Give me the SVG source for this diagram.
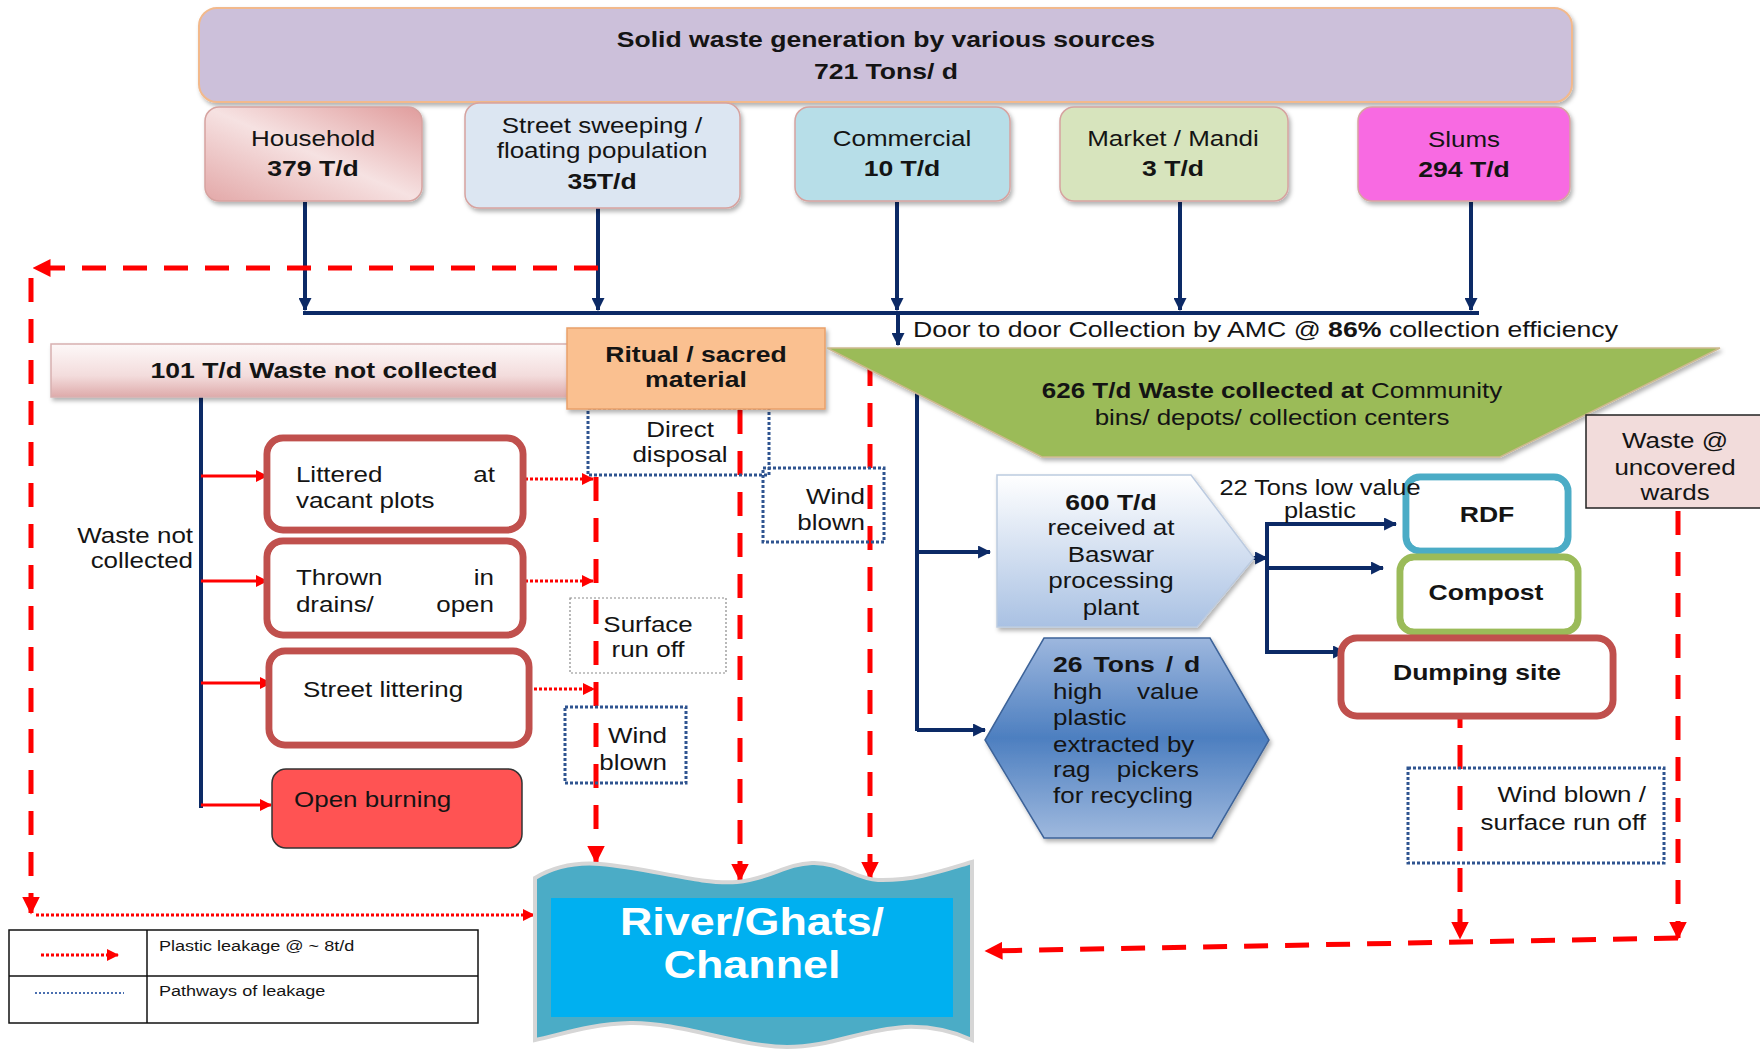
<svg xmlns="http://www.w3.org/2000/svg" width="1760" height="1053" viewBox="0 0 1760 1053">
<defs>
<style>
text{font-family:"Liberation Sans",Arial,sans-serif;fill:#141414}
.r{font-size:22px}
.b{font-size:22.5px;font-weight:bold}
.c{text-anchor:middle}
.e{text-anchor:end}
.nv{stroke:#0c2a66;stroke-width:4;fill:none}
.rd{stroke:#ff0000;stroke-width:5;fill:none;stroke-dasharray:24 17}
.rdot{stroke:#ff0000;stroke-width:3;fill:none;stroke-dasharray:3 2}
.rs{stroke:#ff0000;stroke-width:3;fill:none}
.bd{stroke:#2f5490;stroke-width:3;fill:none;stroke-dasharray:3 2}
.src{stroke:#d6a3a0;stroke-width:1.5}
.dbl{fill:#fff;stroke-width:7}
.inner{fill:none;stroke:#fff;stroke-width:1.5}
</style>
<filter id="sh" x="-10%" y="-10%" width="130%" height="140%">
<feDropShadow dx="2" dy="3" stdDeviation="2" flood-color="#000" flood-opacity="0.3"/>
</filter>
<marker id="an" viewBox="0 0 12 12" refX="11" refY="6" markerWidth="13" markerHeight="13" markerUnits="userSpaceOnUse" orient="auto">
<path d="M0,0 L12,6 L0,12 Z" fill="#0c2a66"/>
</marker>
<marker id="ar" viewBox="0 0 12 12" refX="11" refY="6" markerWidth="18" markerHeight="18" markerUnits="userSpaceOnUse" orient="auto">
<path d="M0,0 L12,6 L0,12 Z" fill="#ff0000"/>
</marker>
<marker id="ars" viewBox="0 0 12 12" refX="11" refY="6" markerWidth="12" markerHeight="12" markerUnits="userSpaceOnUse" orient="auto">
<path d="M0,0 L12,6 L0,12 Z" fill="#ff0000"/>
</marker>
<linearGradient id="gHouse" x1="1" y1="0" x2="0" y2="1">
<stop offset="0" stop-color="#e09c9c"/>
<stop offset="0.5" stop-color="#f6e2e2"/>
<stop offset="1" stop-color="#e3a8a8"/>
</linearGradient>
<linearGradient id="gBar" x1="0" y1="0" x2="0" y2="1">
<stop offset="0" stop-color="#fdf8f8"/>
<stop offset="0.6" stop-color="#f3dcdc"/>
<stop offset="1" stop-color="#deaaaa"/>
</linearGradient>
<linearGradient id="gPent" x1="0" y1="0" x2="0" y2="1">
<stop offset="0" stop-color="#ffffff"/>
<stop offset="1" stop-color="#a9c1e3"/>
</linearGradient>
<linearGradient id="gHex" x1="0" y1="0" x2="0" y2="1">
<stop offset="0" stop-color="#9db7de"/>
<stop offset="0.5" stop-color="#4d7fc0"/>
<stop offset="1" stop-color="#9fb9de"/>
</linearGradient>
</defs>

<g id="connectors">
<line class="nv" x1="305" y1="202" x2="305" y2="310" marker-end="url(#an)"/>
<line class="nv" x1="598" y1="208" x2="598" y2="310" marker-end="url(#an)"/>
<line class="nv" x1="897" y1="202" x2="897" y2="310" marker-end="url(#an)"/>
<line class="nv" x1="1180" y1="202" x2="1180" y2="310" marker-end="url(#an)"/>
<line class="nv" x1="1471" y1="202" x2="1471" y2="310" marker-end="url(#an)"/>
<line class="nv" x1="303" y1="313" x2="1479" y2="313"/>
<line class="nv" x1="898" y1="313" x2="898" y2="345" marker-end="url(#an)"/>
<line class="nv" x1="201" y1="396" x2="201" y2="808"/>
<line class="rs" x1="201" y1="476" x2="267" y2="476" marker-end="url(#ars)"/>
<line class="rs" x1="201" y1="581" x2="267" y2="581" marker-end="url(#ars)"/>
<line class="rs" x1="201" y1="683" x2="271" y2="683" marker-end="url(#ars)"/>
<line class="rs" x1="201" y1="805" x2="271" y2="805" marker-end="url(#ars)"/>
<line class="nv" x1="917" y1="393" x2="917" y2="731"/>
<line class="nv" x1="917" y1="552" x2="990" y2="552" marker-end="url(#an)"/>
<line class="nv" x1="917" y1="730" x2="985" y2="730" marker-end="url(#an)"/>
<line class="nv" x1="1244" y1="558" x2="1267" y2="558" marker-end="url(#an)"/>
<line class="nv" x1="1267" y1="522" x2="1267" y2="653"/>
<line class="nv" x1="1265" y1="524" x2="1396" y2="524" marker-end="url(#an)"/>
<line class="nv" x1="1265" y1="568" x2="1383" y2="568" marker-end="url(#an)"/>
<line class="nv" x1="1265" y1="652" x2="1345" y2="652" marker-end="url(#an)"/>
<line class="rd" x1="598" y1="268" x2="34" y2="268" marker-end="url(#ar)"/>
<line class="rd" x1="31" y1="278" x2="31" y2="913" marker-end="url(#ar)"/>
<line class="rdot" x1="36" y1="915" x2="534" y2="915" marker-end="url(#ars)"/>
<line class="rdot" x1="525" y1="479" x2="593" y2="479" marker-end="url(#ars)"/>
<line class="rdot" x1="525" y1="581" x2="593" y2="581" marker-end="url(#ars)"/>
<line class="rdot" x1="529" y1="689" x2="594" y2="689" marker-end="url(#ars)"/>
<line class="rd" x1="596" y1="477" x2="596" y2="862" marker-end="url(#ar)"/>
<line class="rd" x1="740" y1="410" x2="740" y2="880" marker-end="url(#ar)"/>
<line class="rd" x1="870" y1="362" x2="870" y2="878" marker-end="url(#ar)"/>
<line class="rd" x1="1460" y1="704" x2="1460" y2="938" marker-end="url(#ar)"/>
<line class="rd" x1="1678" y1="511" x2="1678" y2="938" marker-end="url(#ar)"/>
<line class="rd" x1="1678" y1="938" x2="986" y2="951" marker-end="url(#ar)"/>
</g>

<g id="top-banner">
<rect x="199" y="8" width="1373" height="94" rx="18" fill="#ccc0da" stroke="#f2b98c" stroke-width="2" filter="url(#sh)"/>
<text class="b c" transform="scale(1.18 1)" x="750.8" y="47">Solid waste generation by various sources</text>
<text class="b c" transform="scale(1.18 1)" x="750.8" y="79">721 Tons/ d</text>
</g>

<g id="household">
<rect class="src" x="205" y="107" width="217" height="94" rx="14" fill="url(#gHouse)" filter="url(#sh)"/>
<text class="r c" transform="scale(1.18 1)" x="265.3" y="146">Household</text>
<text class="b c" transform="scale(1.18 1)" x="265.3" y="176">379 T/d</text>
</g>

<g id="street-sweeping">
<rect class="src" x="465" y="103" width="275" height="105" rx="14" fill="#dce6f2" filter="url(#sh)"/>
<text class="r c" transform="scale(1.18 1)" x="510.2" y="133">Street sweeping /</text>
<text class="r c" transform="scale(1.18 1)" x="510.2" y="158">floating population</text>
<text class="b c" transform="scale(1.18 1)" x="510.2" y="189">35T/d</text>
</g>

<g id="commercial">
<rect class="src" x="795" y="107" width="215" height="94" rx="14" fill="#b7dee8" filter="url(#sh)"/>
<text class="r c" transform="scale(1.18 1)" x="764.4" y="146">Commercial</text>
<text class="b c" transform="scale(1.18 1)" x="764.4" y="176">10 T/d</text>
</g>

<g id="market">
<rect class="src" x="1060" y="107" width="228" height="94" rx="14" fill="#d7e4bd" filter="url(#sh)"/>
<text class="r c" transform="scale(1.18 1)" x="994.1" y="146">Market / Mandi</text>
<text class="b c" transform="scale(1.18 1)" x="994.1" y="176">3 T/d</text>
</g>

<g id="slums">
<rect class="src" x="1358" y="107" width="212" height="94" rx="14" fill="#f86be2" filter="url(#sh)"/>
<text class="r c" transform="scale(1.18 1)" x="1240.7" y="147">Slums</text>
<text class="b c" transform="scale(1.18 1)" x="1240.7" y="177">294 T/d</text>
</g>

<g id="door-to-door">
<text class="r" style="font-size:22.6px" transform="scale(1.18 1)" x="773.7" y="337">Door to door Collection by AMC @ <tspan font-weight="bold">86%</tspan> collection efficiency</text>
</g>

<g id="not-collected-bar">
<rect x="51" y="344" width="530" height="53" fill="url(#gBar)" stroke="#d8b0b0" stroke-width="1.5" filter="url(#sh)"/>
<text class="b c" transform="scale(1.18 1)" x="274.6" y="378">101 T/d Waste not collected</text>
</g>

<g id="direct-disposal">
<rect class="bd" x="588" y="408" width="181" height="67"/>
<text class="r c" transform="scale(1.18 1)" x="576.3" y="437">Direct</text>
<text class="r c" transform="scale(1.18 1)" x="576.3" y="462">disposal</text>
</g>

<g id="ritual">
<rect x="567" y="328" width="258" height="81" fill="#fac090" stroke="#e9a06a" stroke-width="1.5" filter="url(#sh)"/>
<text class="b c" transform="scale(1.18 1)" x="589.8" y="362">Ritual / sacred</text>
<text class="b c" transform="scale(1.18 1)" x="589.8" y="387">material</text>
</g>

<g id="collected">
<polygon points="827,348 1720,348 1500,457 1042,457" fill="#9bbb59" stroke="#cdb98e" stroke-width="1.5" filter="url(#sh)"/>
<text class="r c" transform="scale(1.18 1)" x="1078" y="398"><tspan font-weight="bold">626 T/d Waste collected at</tspan> Community</text>
<text class="r c" transform="scale(1.18 1)" x="1078" y="425">bins/ depots/ collection centers</text>
</g>

<g id="wind-upper">
<rect class="bd" x="763" y="468" width="121" height="74"/>
<text class="r e" transform="scale(1.18 1)" x="733.1" y="504">Wind</text>
<text class="r e" transform="scale(1.18 1)" x="733.1" y="530">blown</text>
</g>

<g id="waste-not-collected-label">
<text class="r e" transform="scale(1.18 1)" x="163.6" y="543">Waste not</text>
<text class="r e" transform="scale(1.18 1)" x="163.6" y="568">collected</text>
</g>

<g id="littered">
<rect class="dbl" x="267" y="438" width="256" height="92" rx="16" stroke="#c0504d"/>
<rect class="inner" x="271.5" y="442.5" width="247" height="83" rx="12"/>
<text class="r" transform="scale(1.18 1)" y="482"><tspan x="250.8">Littered </tspan><tspan x="419.5" text-anchor="end">at</tspan></text>
<text class="r" transform="scale(1.18 1)" x="250.8" y="508">vacant plots</text>
</g>

<g id="thrown">
<rect class="dbl" x="267" y="541" width="256" height="94" rx="16" stroke="#c0504d"/>
<rect class="inner" x="271.5" y="545.5" width="247" height="85" rx="12"/>
<text class="r" transform="scale(1.18 1)" y="585"><tspan x="250.8">Thrown </tspan><tspan x="418.6" text-anchor="end">in</tspan></text>
<text class="r" transform="scale(1.18 1)" y="612"><tspan x="250.8">drains/ </tspan><tspan x="418.6" text-anchor="end">open</tspan></text>
</g>

<g id="street-littering">
<rect class="dbl" x="269" y="651" width="260" height="94" rx="16" stroke="#c0504d"/>
<rect class="inner" x="273.5" y="655.5" width="251" height="85" rx="12"/>
<text class="r" transform="scale(1.18 1)" x="256.8" y="697">Street littering</text>
</g>

<g id="open-burning">
<rect x="272" y="769" width="250" height="79" rx="14" fill="#ff5353" stroke="#333" stroke-width="1.5"/>
<text class="r" transform="scale(1.18 1)" x="249.2" y="807">Open burning</text>
</g>

<g id="surface-run-off">
<rect x="570" y="598" width="156" height="75" fill="none" stroke="#8a8a8a" stroke-width="1.2" stroke-dasharray="2 2"/>
<text class="r c" transform="scale(1.18 1)" x="549.2" y="632">Surface</text>
<text class="r c" transform="scale(1.18 1)" x="549.2" y="657">run off</text>
</g>

<g id="wind-lower">
<rect class="bd" x="565" y="707" width="121" height="76"/>
<text class="r e" transform="scale(1.18 1)" x="565.3" y="743">Wind</text>
<text class="r e" transform="scale(1.18 1)" x="565.3" y="770">blown</text>
</g>

<g id="river">
<path d="M535,878 C555,866 575,862 600,864 C650,868 700,885 737,882 C770,879 785,864 812,863 C840,862 855,879 878,880 C915,881 945,870 972,862 L972,1040 C950,1030 930,1026 905,1027 C860,1030 830,1047 787,1047 C740,1047 680,1022 630,1023 C590,1024 560,1035 535,1040 Z" fill="#4bacc6" stroke="#d6d6d6" stroke-width="4"/>
<rect x="551" y="898" width="402" height="119" fill="#00b0f0"/>
<text class="c" style="font-size:38px;font-weight:bold;fill:#fff" transform="scale(1.18 1)" x="637.3" y="935">River/Ghats/</text>
<text class="c" style="font-size:38px;font-weight:bold;fill:#fff" transform="scale(1.18 1)" x="637.3" y="978">Channel</text>
</g>

<g id="legend">
<rect x="9" y="930" width="469" height="93" fill="none" stroke="#111" stroke-width="1.5"/>
<line x1="147" y1="930" x2="147" y2="1023" stroke="#111" stroke-width="1.5"/>
<line x1="9" y1="976" x2="478" y2="976" stroke="#111" stroke-width="1.5"/>
<line class="rdot" x1="41" y1="955" x2="118" y2="955" marker-end="url(#ars)"/>
<line x1="35" y1="993" x2="124" y2="993" stroke="#4a6fb0" stroke-width="2" stroke-dasharray="2 2"/>
<text style="font-size:15.3px" transform="scale(1.18 1)" x="134.7" y="951">Plastic leakage @ ~ 8t/d</text>
<text style="font-size:15.3px" transform="scale(1.18 1)" x="134.7" y="996">Pathways of leakage</text>
</g>

<g id="baswar-plant">
<polygon points="997,475 1191,475 1254,558 1197,627 997,627" fill="url(#gPent)" stroke="#bccbe0" stroke-width="1.5" filter="url(#sh)"/>
<text class="b c" transform="scale(1.18 1)" x="941.5" y="510">600 T/d</text>
<text class="r c" transform="scale(1.18 1)" x="941.5" y="535">received at</text>
<text class="r c" transform="scale(1.18 1)" x="941.5" y="562">Baswar</text>
<text class="r c" transform="scale(1.18 1)" x="941.5" y="588">processing</text>
<text class="r c" transform="scale(1.18 1)" x="941.5" y="615">plant</text>
</g>

<g id="rdf">
<rect class="dbl" x="1406" y="477" width="162" height="74" rx="14" stroke="#4bacc6"/>
<rect class="inner" x="1410.5" y="481.5" width="153" height="65" rx="10"/>
<text class="b c" transform="scale(1.18 1)" x="1260.2" y="522">RDF</text>
</g>

<g id="low-value-label">
<text class="c" style="font-size:21.5px" transform="scale(1.18 1)" x="1118.6" y="495">22 Tons low value</text>
<text class="c" style="font-size:21.5px" transform="scale(1.18 1)" x="1118.6" y="518">plastic</text>
</g>

<g id="compost">
<rect class="dbl" x="1400" y="557" width="178" height="75" rx="14" stroke="#9bbb59"/>
<rect class="inner" x="1404.5" y="561.5" width="169" height="66" rx="10"/>
<text class="b c" transform="scale(1.18 1)" x="1259.3" y="600">Compost</text>
</g>

<g id="dumping-site">
<rect class="dbl" x="1341" y="638" width="272" height="78" rx="16" stroke="#c0504d"/>
<rect class="inner" x="1345.5" y="642.5" width="263" height="69" rx="12"/>
<text class="b c" transform="scale(1.18 1)" x="1251.7" y="680">Dumping site</text>
</g>

<g id="uncovered-wards">
<rect x="1586" y="415" width="176" height="93" fill="#f2dcdb" stroke="#222" stroke-width="1.5"/>
<text class="r c" transform="scale(1.18 1)" x="1419.5" y="448">Waste @</text>
<text class="r c" transform="scale(1.18 1)" x="1419.5" y="475">uncovered</text>
<text class="r c" transform="scale(1.18 1)" x="1419.5" y="500">wards</text>
</g>

<g id="rag-pickers">
<polygon points="1044,638 1210,638 1269,740 1212,838 1044,838 985,740" fill="url(#gHex)" stroke="#3d6399" stroke-width="1.5" filter="url(#sh)"/>
<text class="b" style="word-spacing:3px" transform="scale(1.18 1)" x="892.4" y="672">26 Tons / d</text>
<text class="r" transform="scale(1.18 1)" y="699"><tspan x="892.4">high </tspan><tspan x="1016.1" text-anchor="end">value</tspan></text>
<text class="r" transform="scale(1.18 1)" x="892.4" y="725">plastic</text>
<text class="r" transform="scale(1.18 1)" x="892.4" y="752">extracted by</text>
<text class="r" transform="scale(1.18 1)" y="777"><tspan x="892.4">rag </tspan><tspan x="1016.1" text-anchor="end">pickers</tspan></text>
<text class="r" transform="scale(1.18 1)" x="892.4" y="803">for recycling</text>
</g>

<g id="wind-surface">
<rect class="bd" x="1408" y="768" width="256" height="95"/>
<text class="r e" transform="scale(1.18 1)" x="1394.9" y="802">Wind blown /</text>
<text class="r e" transform="scale(1.18 1)" x="1394.9" y="830">surface run off</text>
</g>
</svg>
